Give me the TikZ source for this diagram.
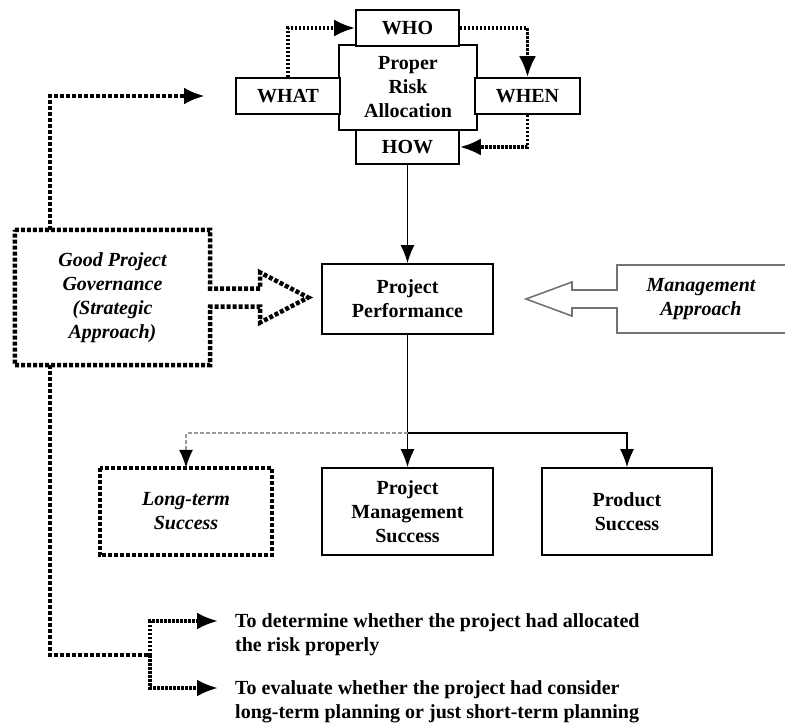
\documentclass[tikz,border=0pt]{standalone}
\usepackage{fontspec}
\setmainfont{Liberation Serif}
\usetikzlibrary{arrows.meta,calc,positioning}
\newcommand{\bigtxt}{\fontsize{20}{24}\selectfont}
\tikzset{box/.style={draw, line width=1.6pt, fill=white, align=center, inner sep=0pt, font=\bigtxt\bfseries}}
\tikzset{itbox/.style={align=center, inner sep=0pt, font=\bigtxt\bfseries\itshape}}
\tikzset{note/.style={align=left, inner sep=0pt, anchor=north west, font=\bigtxt\bfseries}}
\tikzset{dotline/.style={line width=3.5pt, dash pattern=on 2.5pt off 1.5pt}}
\tikzset{govline/.style={line width=4.5pt, dash pattern=on 4pt off 2pt}}
\tikzset{arr/.style={-{Latex[length=21pt,width=17pt]}}}

\begin{document}
\begin{tikzpicture}[x=1pt,y=-1pt]
        \useasboundingbox (0,0) rectangle (785,724);

        \node[box, minimum width=138pt, minimum height=85pt] (alloc) at (408,87.5) {Proper\\Risk\\Allocation};
        \node[box, minimum width=103pt, minimum height=36pt] (who) at (407.5,28) {WHO};
        \node[box, minimum width=104pt, minimum height=36pt] (what) at (288,96) {WHAT};
        \node[box, minimum width=105pt, minimum height=36pt] (when) at (527.5,96) {WHEN};
        \node[box, minimum width=103pt, minimum height=34pt] (how) at (407.5,147) {HOW};

        \node[box, minimum width=171pt, minimum height=70pt] (perf) at (407.5,299) {Project\\Performance};
        \node[itbox, minimum width=195pt, minimum height=135pt] (gov) at (112.5,297.5) {Good Project\\Governance\\(Strategic\\Approach)};
        \node[itbox] (mgmt) at (701,299) {Management\\Approach};

        \node[itbox, minimum width=172pt, minimum height=87pt] (lts) at (186,511.5) {Long-term\\Success};
        \node[box, minimum width=171pt, minimum height=87pt] (pms) at (407.5,511.5) {Project\\Management\\Success};
        \node[box, minimum width=170pt, minimum height=87pt] (ps) at (627,511.5) {Product\\Success};

        \node[note] (t1) at (235,613) {To determine whether the project had allocated\\the risk properly};
        \node[note] (t2) at (235,680) {To evaluate whether the project had consider\\long-term planning or just short-term planning};

        \coordinate (br) at (407.5,433);
        \coordinate (gtop) at ($(gov.north west)+(35,0)$);
        \coordinate (gbot) at ($(gov.south west)+(35,0)$);
        \coordinate (gaim) at (205,96);
        \coordinate (hub) at (150,655);

        % hollow arrows
        \draw[govline] (gov.north west) -- (gov.north east) -- ($(gov.east)+(0,-9)$) -- ++(50,0) -- ++(0,-16)
            -- ($(gov.east)+(98,0)$) -- ($(gov.east)+(50,25)$) -- ++(0,-16) -- ($(gov.east)+(0,9)$)
            -- (gov.south east) -- (gov.south west) -- cycle;
        \draw[black!55, line width=1.6pt] (786,265) -- (617,265) -- (617,290) -- (572,290) -- (572,282) -- (526,299)
            -- (572,316) -- (572,308) -- (617,308) -- (617,333) -- (786,333);
        \draw[govline] (lts.north west) rectangle (lts.south east);

        \begin{scope}[dotline, arr]
            \draw (what.north) |- (who.west);
            \draw (who.east) -| (when.north);
            \draw (when.south) |- (how.east);
            \draw (hub) |- ($(t1.north west)+(-17,8)$);
            \draw (hub) |- ($(t2.north west)+(-17,8)$);
        \end{scope}
        \draw[govline, arr] (gtop) |- (gaim);
        \draw[govline] (gbot) |- (hub);

        \begin{scope}[line width=1.6pt, -{Latex[length=18pt,width=14pt]}]
            \draw (how.south) -- (perf.north);
            \draw (perf.south) -- (pms.north);
            \draw (br) -| (ps.north);
        \end{scope}
        \draw[black!40, line width=1.6pt, dash pattern=on 4pt off 2pt, -{Latex[length=18pt,width=14pt,black]}] (br) -| (lts.north);
    \end{tikzpicture}
\end{document}
